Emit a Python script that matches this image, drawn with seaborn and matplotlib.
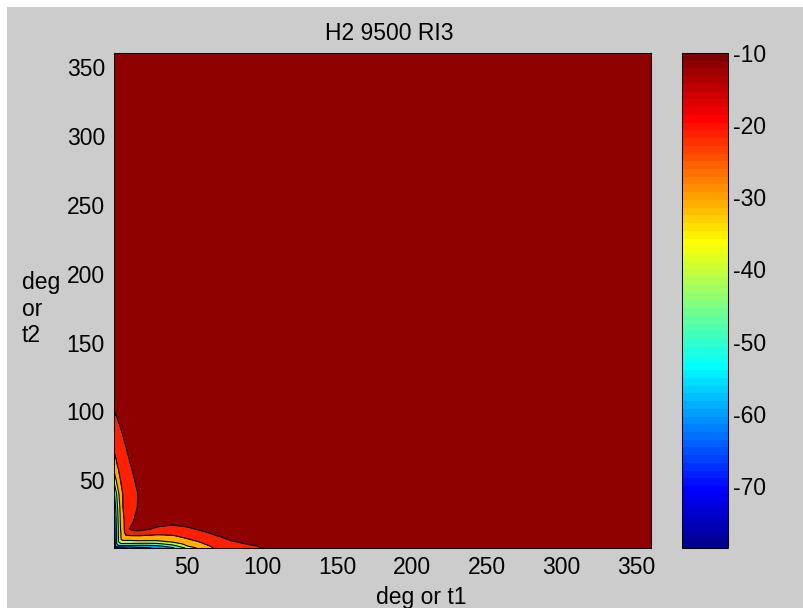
import numpy as np
import matplotlib
matplotlib.use("Agg")
import matplotlib.pyplot as plt
from matplotlib.colors import Normalize, ListedColormap
from matplotlib.cm import ScalarMappable
from matplotlib.patches import Rectangle
import seaborn as sns

# Scan angles (degrees); the grid is dense near 0 where the response changes fastest
t1 = [1, 2.5, 4, 5.5, 7, 9, 12, 15, 18, 22, 30, 40, 50, 60, 70, 80, 90, 100, 110, 360]
t2 = [1, 2.5, 4, 5.5, 7, 9, 12, 15, 18, 22, 30, 40, 50, 60, 70, 80, 90, 100, 110, 360]

P = -9.7  # flat level reached away from both axes

# RI3 response in dB: one row per t2 value, one column per t1 value
ri3_db = [
    [-78.6, -73.0, -70.0, -69.0, -68.0, -67.0, -66.0, -64.0, -63.0, -62.0, -58.0, -52.0, -38.0, -25.0, -18.5, -14.0, -11.5, -9.9, P, P],
    [-73.0, -54.0, -52.3, -52.3, -52.3, -52.3, -52.3, -52.7, -53.1, -52.8, -51.3, -44.2, -30.0, -22.9, -17.1, -12.8, -10.6, P, P, P],
    [-70.0, -51.8, -41.4, -41.4, -41.4, -41.4, -41.4, -42.1, -42.3, -42.9, -42.0, -35.9, -27.0, -20.7, -15.6, -11.6, -9.8, P, P, P],
    [-69.0, -51.8, -40.0, -33.8, -33.8, -33.8, -33.8, -33.3, -32.9, -33.1, -32.9, -29.0, -24.0, -18.9, -14.2, -10.4, -8.9, P, P, P],
    [-68.0, -51.8, -40.0, -30.6, -28.1, -28.1, -28.1, -27.7, -27.5, -27.6, -27.7, -26.0, -21.0, -17.2, -12.7, -9.2, -8.0, P, P, P],
    [-67.0, -51.8, -40.0, -30.6, -24.2, -22.7, -22.7, -22.6, -22.5, -22.9, -23.0, -22.0, -18.3, -14.9, -10.8, -7.6, -6.8, P, P, P],
    [-66.5, -51.8, -40.0, -30.6, -24.2, -16.7, -14.3, -13.9, -14.1, -15.3, -17.2, -17.4, -14.8, -11.5, -7.9, -6.0, P, P, P, P],
    [-66.0, -50.8, -39.3, -29.1, -22.6, -16.4, -8.7, -6.0, -6.0, -7.4, -12.2, -13.5, -11.4, -8.1, -6.0, P, P, P, P, P],
    [-65.0, -50.0, -38.5, -28.3, -21.7, -17.1, -11.8, -6.4, -6.0, -6.0, -7.2, -9.6, -7.9, -6.0, P, P, P, P, P, P],
    [-63.0, -49.2, -37.7, -27.8, -21.3, -17.6, -13.5, -9.3, -6.0, P, P, P, P, P, P, P, P, P, P, P],
    [-58.0, -47.3, -35.3, -26.8, -20.0, -17.9, -14.7, -11.6, -8.4, -6.0, P, P, P, P, P, P, P, P, P, P],
    [-52.0, -42.0, -31.4, -24.3, -19.5, -17.6, -14.8, -11.9, -9.05, -6.0, P, P, P, P, P, P, P, P, P, P],
    [-38.0, -30.0, -24.0, -19.5, -18.0, -16.0, -13.0, -9.9, -7.0, -6.0, P, P, P, P, P, P, P, P, P, P],
    [-26.0, -21.5, -18.9, -17.4, -15.8, -13.7, -10.5, -7.4, -6.0, P, P, P, P, P, P, P, P, P, P, P],
    [-20.3, -18.4, -16.7, -15.1, -13.4, -11.1, -7.8, -6.0, P, P, P, P, P, P, P, P, P, P, P, P],
    [-16.5, -15.0, -13.5, -12.0, -10.5, -8.5, -6.0, P, P, P, P, P, P, P, P, P, P, P, P, P],
    [-13.0, -11.8, -10.6, -9.4, -8.3, -6.7, -6.0, P, P, P, P, P, P, P, P, P, P, P, P, P],
    [-10.05, -9.2, -8.2, -7.0, -6.0, P, P, P, P, P, P, P, P, P, P, P, P, P, P, P],
    [P] * 20,
    [P] * 20,
]

contour_levels = [-80, -70, -60, -50, -40, -30, -20, -10, 0]
cbar_ticks = [-70, -60, -50, -40, -30, -20, -10]
cbar_limits = (-78.6, -10.0)
axis_ticks = [50, 100, 150, 200, 250, 300, 350]

title_text = "H2 9500 RI3"
xlabel_text = "deg or t1"
ylabel_text = "deg\nor\nt2"

sns.set_theme(style="white")
plt.rcParams["font.family"] = ["Liberation Sans", "DejaVu Sans"]
plt.rcParams["axes.unicode_minus"] = False
for key in ("text.color", "axes.labelcolor", "xtick.color", "ytick.color", "axes.edgecolor"):
    plt.rcParams[key] = "black"
FS = 16.5


def classic_jet(n=64):
    """Classic 64-entry jet table: dark blue -> blue -> cyan -> yellow -> red -> dark red."""
    f = np.arange(1, n + 1) / n
    r = np.clip(np.minimum(4 * f - 1.5, -4 * f + 4.5), 0, 1)
    g = np.clip(np.minimum(4 * f - 0.5, -4 * f + 3.5), 0, 1)
    b = np.clip(np.minimum(4 * f + 0.5, -4 * f + 2.5), 0, 1)
    return ListedColormap(np.column_stack([r, g, b]))


W, H = 804, 608
fig = plt.figure(figsize=(W / 100, H / 100), dpi=100, facecolor="white")
fig.patches.append(Rectangle((7 / W, 0), 1, 1 - 7 / H, transform=fig.transFigure,
                             facecolor="#cccccc", edgecolor="none", zorder=-10))

ax = fig.add_axes([114 / W, 60 / H, 537 / W, 495 / H])
cax = fig.add_axes([682 / W, 60 / H, 46 / W, 495 / H])

# each filled band takes the palette entry of its lower level
jet64 = classic_jet(64)
norm = Normalize(*cbar_limits)
band_colors = [jet64(int(round(float(np.clip(norm(v), 0, 1)) * 62))) for v in contour_levels[:-1]]

Z = np.array(ri3_db, dtype=float)
ax.contourf(t1, t2, Z, levels=contour_levels, colors=band_colors)
ax.contour(t1, t2, Z, levels=contour_levels[1:-1], colors="black",
           linewidths=0.8, linestyles="solid", negative_linestyles="solid")

ax.set_xlim(1, 360)
ax.set_ylim(1, 360)
ax.set_xticks(axis_ticks)
ax.set_yticks(axis_ticks)
ax.tick_params(length=0, labelsize=FS)
ax.tick_params(axis="x", pad=6)
ax.tick_params(axis="y", pad=6.5)
for s in ax.spines.values():
    s.set_visible(True)
    s.set_color("black")
    s.set_linewidth(0.75)

ax.set_title(title_text, fontsize=FS, pad=9, x=(389 - 114) / 537)
ax.set_xlabel(xlabel_text, fontsize=FS, va="baseline")
ax.xaxis.set_label_coords((421 - 114) / 537, (548 - 604) / 495)
ax.set_ylabel(ylabel_text, fontsize=FS, rotation=0, ha="left", va="center",
              linespacing=1.2, multialignment="left")
ax.yaxis.set_label_coords((22 - 114) / 537, (548 - 309) / 495)

cb = fig.colorbar(ScalarMappable(norm=norm, cmap=jet64), cax=cax, ticks=cbar_ticks)
cb.outline.set_edgecolor("black")
cb.outline.set_linewidth(0.75)
cax.tick_params(axis="y", direction="in", left=True, right=True, length=4,
                width=0.75, pad=3.5, labelsize=FS, colors="black")

fig.savefig("out.png", dpi=100, facecolor=fig.get_facecolor())
